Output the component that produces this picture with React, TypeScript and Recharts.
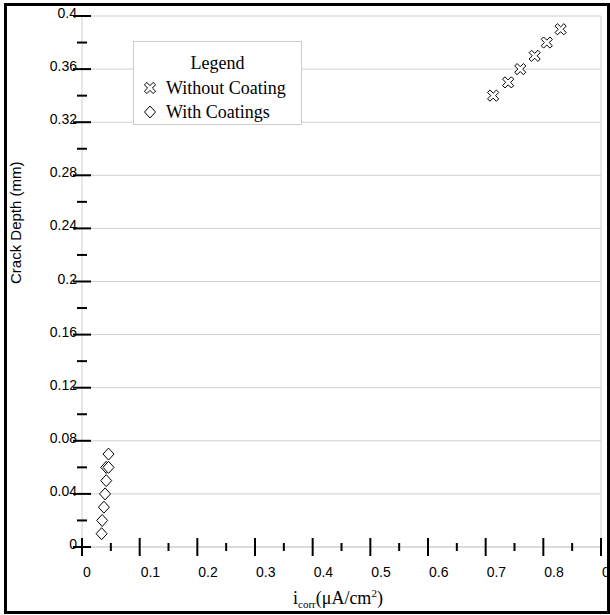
import React from "react";
import { CartesianGrid, Legend, Scatter, ScatterChart, XAxis, YAxis } from "recharts";

// values
const withoutCoatingX = [0.713, 0.739, 0.76, 0.785, 0.806, 0.83];
const withoutCoatingY = [0.34, 0.35, 0.36, 0.37, 0.38, 0.39];
const withCoatingsX = [0.034, 0.035, 0.038, 0.04, 0.042, 0.042, 0.046, 0.046];
const withCoatingsY = [0.01, 0.02, 0.03, 0.04, 0.05, 0.06, 0.06, 0.07];

const seriesNames = ["Without Coating", "With Coatings"];

const yTicks = [0, 0.02, 0.04, 0.06, 0.08, 0.1, 0.12, 0.14, 0.16, 0.18, 0.2, 0.22, 0.24, 0.26, 0.28, 0.3, 0.32, 0.34, 0.36, 0.38, 0.4];
const xTicks = [0, 0.05, 0.1, 0.15, 0.2, 0.25, 0.3, 0.35, 0.4, 0.45, 0.5, 0.55, 0.6, 0.65, 0.7, 0.75, 0.8, 0.85, 0.9];
const yMajor = yTicks.filter((_, i) => i % 2 === 0);

const withoutData = withoutCoatingX.map((x, i) => ({ x, y: withoutCoatingY[i] }));
const withData = withCoatingsX.map((x, i) => ({ x, y: withCoatingsY[i] }));

const TICK_FONT = "'Liberation Sans', Arial, sans-serif";
const SERIF = "'Liberation Serif', 'Times New Roman', serif";
const GRID = "#d0d0d0";

const fmt = (v: number) => String(Number(v.toFixed(2)));

function crossPoints(cx: number, cy: number) {
  const t = 1.7;
  const L = 6.2;
  const base = [[t, -L], [t, -t], [L, -t], [L, t], [t, t], [t, L], [-t, L], [-t, t], [-L, t], [-L, -t], [-t, -t], [-t, -L]];
  const c = Math.SQRT1_2;
  return base.map(([x, y]) => `${cx + (x - y) * c},${cy + (x + y) * c}`).join(" ");
}

function Cross({ cx, cy }: { cx: number; cy: number }) {
  return <polygon points={crossPoints(cx, cy)} fill="#fff" stroke="#000" strokeWidth={1} />;
}

function Diamond({ cx, cy }: { cx: number; cy: number }) {
  return (
    <polygon
      points={`${cx},${cy - 6} ${cx + 5.5},${cy} ${cx},${cy + 6} ${cx - 5.5},${cy}`}
      fill="#fff"
      stroke="#000"
      strokeWidth={1}
    />
  );
}

function YTick(props: any) {
  const { x, y, payload } = props;
  const v = payload.value as number;
  const major = Math.round(v * 100) % 4 === 0;
  const half = major ? 9 : 5;
  return (
    <g>
      <line x1={x - half} x2={x + half} y1={y} y2={y} stroke="#000" strokeWidth={2} />
      {major && (
        <text x={x - 5} y={y + 2} textAnchor="end" fontSize={14} fontFamily={TICK_FONT} fill="#000">
          {fmt(v)}
        </text>
      )}
    </g>
  );
}

function XTick(props: any) {
  const { x, y, payload } = props;
  const v = payload.value as number;
  const major = Math.round(v * 100) % 10 === 0;
  const half = major ? 9 : 4;
  return (
    <g>
      <line x1={x} x2={x} y1={y - half} y2={y + half} stroke="#000" strokeWidth={2} />
      {major && (
        <text x={x + 1} y={y + 30} textAnchor="start" fontSize={14} fontFamily={TICK_FONT} fill="#000">
          {fmt(v)}
        </text>
      )}
    </g>
  );
}

function LegendBox() {
  const row: React.CSSProperties = { display: "flex", alignItems: "center", height: 24, paddingLeft: 8 };
  return (
    <div
      style={{
        width: 169,
        height: 84,
        boxSizing: "border-box",
        border: "1px solid #cccccc",
        background: "#fff",
        fontFamily: SERIF,
        fontSize: 18,
        color: "#000",
        paddingTop: 8,
      }}
    >
      <div style={{ textAlign: "center", lineHeight: "26px", height: 26 }}>Legend</div>
      <div style={row}>
        <svg width={16} height={16} style={{ marginRight: 8 }}>
          <Cross cx={8} cy={8} />
        </svg>
        {seriesNames[0]}
      </div>
      <div style={row}>
        <svg width={16} height={16} style={{ marginRight: 8 }}>
          <Diamond cx={8} cy={8} />
        </svg>
        {seriesNames[1]}
      </div>
    </div>
  );
}

export default function App() {
  return (
    <div style={{ position: "absolute", left: 0, top: 0, width: 610, height: 615, background: "#fff" }}>
      <ScatterChart width={610} height={615} margin={{ top: 16, right: 9, bottom: 0, left: 0 }}>
        <CartesianGrid
          stroke={GRID}
          horizontalValues={yMajor}
          verticalValues={[0.9]}
        />
        <XAxis
          type="number"
          dataKey="x"
          domain={[0, 0.9]}
          ticks={xTicks}
          interval={0}
          height={68}
          tickSize={0}
          tickMargin={0}
          tickLine={false}
          axisLine={{ stroke: GRID }}
          tick={<XTick />}
          label={{
            content: () => (
              <text x={293} y={604} fontFamily={SERIF} fontSize={18} fill="#000">
                i
                <tspan fontSize={11} dy={4}>corr</tspan>
                <tspan dy={-4}>(μA/cm</tspan>
                <tspan fontSize={11} dy={-7}>2</tspan>
                <tspan dy={7}>)</tspan>
              </text>
            ),
          }}
        />
        <YAxis
          type="number"
          dataKey="y"
          domain={[0, 0.4]}
          ticks={yTicks}
          interval={0}
          width={82}
          tickSize={0}
          tickMargin={0}
          tickLine={false}
          axisLine={{ stroke: GRID }}
          tick={<YTick />}
          label={{
            content: () => (
              <text
                x={0}
                y={0}
                transform="translate(21,284) rotate(-90)"
                textAnchor="start"
                fontFamily={TICK_FONT}
                fontSize={15}
                fill="#000"
              >
                Crack Depth (mm)
              </text>
            ),
          }}
        />
        <Legend
          layout="vertical"
          align="center"
          verticalAlign="middle"
          wrapperStyle={{ left: 133, top: 41, width: 169, height: 84 }}
          content={() => <LegendBox />}
        />
        <Scatter
          name={seriesNames[0]}
          data={withoutData}
          isAnimationActive={false}
          shape={(p: any) => <Cross cx={p.cx} cy={p.cy} />}
        />
        <Scatter
          name={seriesNames[1]}
          data={withData}
          isAnimationActive={false}
          shape={(p: any) => <Diamond cx={p.cx} cy={p.cy} />}
        />
      </ScatterChart>
      <div
        style={{
          position: "absolute",
          left: 4,
          top: 3,
          width: 606,
          height: 611,
          boxSizing: "border-box",
          border: "3px solid #000",
          pointerEvents: "none",
        }}
      />
    </div>
  );
}
